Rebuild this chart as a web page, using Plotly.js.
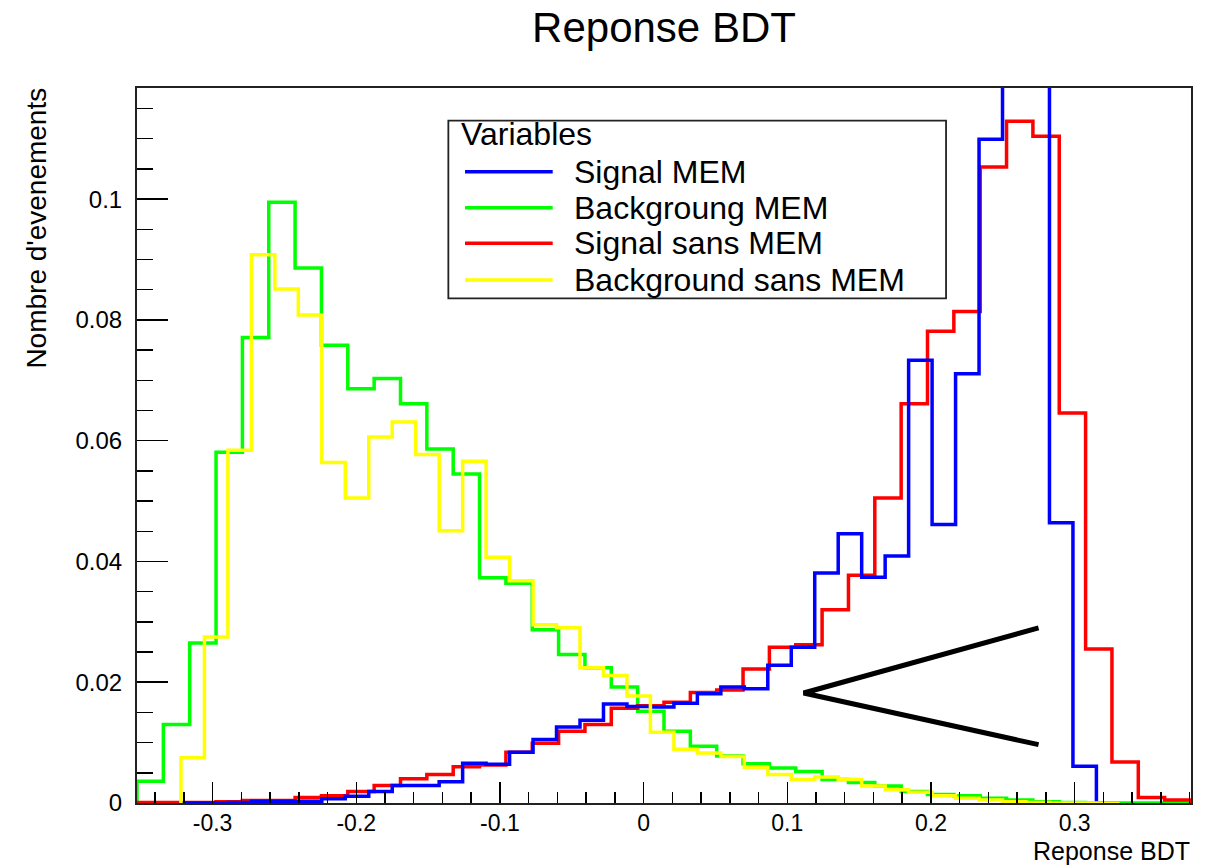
<!DOCTYPE html>
<html>
<head>
<meta charset="utf-8">
<script src="https://cdn.plot.ly/plotly-3.0.1.min.js"></script>
<style>
  html, body { margin: 0; padding: 0; background: #fff; }
  #chart { width: 1212px; height: 866px; }
</style>
</head>
<body>
<div id="chart"></div>
<script>
// BDT response distributions, normalised to unit area (40 bins each)
const seriesNames = ['Signal MEM', 'Backgroung MEM', 'Signal sans MEM', 'Background sans MEM'];
const seriesColors = ['#0000ff', '#00ff00', '#ff0000', '#ffff00'];

// histogram ranges (low edge, high edge)
const rangeSignalMEM = [-0.3220, 0.3315];
const rangeBackgroundMEM = [-0.3526, 0.3810];
const rangeSignalSansMEM = [-0.3526, 0.3810];
const rangeBackgroundSansMEM = [-0.3220, 0.3315];

const signalMEM = [
  0, 0, 0.0001, 0.0003, 0.0003, 0.0003, 0.0007, 0.0011, 0.0019, 0.0029,
  0.0029, 0.0035, 0.0066, 0.0064, 0.0084, 0.0105, 0.0126, 0.0137, 0.0164, 0.0160,
  0.0159, 0.0165, 0.0181, 0.0192, 0.0189, 0.0228, 0.0258, 0.0381, 0.0446, 0.0374,
  0.0409, 0.0733, 0.0461, 0.0711, 0.1099, 0.1230, 0.1210, 0.0464, 0.0061, 0
];
const backgroundMEM = [
  0.0036, 0.0130, 0.0265, 0.0581, 0.0771, 0.0995, 0.0886, 0.0758, 0.0686, 0.0703,
  0.0661, 0.0586, 0.0545, 0.0373, 0.0364, 0.0287, 0.0246, 0.0224, 0.0192, 0.0152,
  0.0119, 0.0094, 0.0078, 0.0065, 0.0058, 0.0052, 0.0039, 0.0034, 0.0028, 0.0019,
  0.0014, 0.0012, 0.0008, 0.0005, 0.0002, 0.0001, 0, 0, 0, 0
];
const signalSansMEM = [
  0.0001, 0.0001, 0.0001, 0.0002, 0.0004, 0.0004, 0.0009, 0.0012, 0.0019, 0.0029,
  0.0040, 0.0047, 0.0060, 0.0063, 0.0084, 0.0099, 0.0119, 0.0130, 0.0157, 0.0161,
  0.0167, 0.0183, 0.0187, 0.0222, 0.0258, 0.0262, 0.0320, 0.0377, 0.0505, 0.0661,
  0.0781, 0.0814, 0.1053, 0.1129, 0.1104, 0.0646, 0.0255, 0.0068, 0.0009, 0.0005
];
const backgroundSansMEM = [
  0.0075, 0.0275, 0.0584, 0.0908, 0.0851, 0.0808, 0.0564, 0.0505, 0.0606, 0.0631,
  0.0577, 0.0451, 0.0566, 0.0407, 0.0368, 0.0295, 0.0290, 0.0224, 0.0211, 0.0177,
  0.0117, 0.0089, 0.0083, 0.0077, 0.0059, 0.0047, 0.0039, 0.0043, 0.0039, 0.0028,
  0.0022, 0.0018, 0.0012, 0.0008, 0.0005, 0.0002, 0.0001, 0, 0, 0
];

const xTickVals = [-0.3, -0.2, -0.1, 0, 0.1, 0.2, 0.3];
const xTickLabels = ['-0.3', '-0.2', '-0.1', '0', '0.1', '0.2', '0.3'];
const yTickVals = [0, 0.02, 0.04, 0.06, 0.08, 0.1];
const yTickLabels = ['0', '0.02', '0.04', '0.06', '0.08', '0.1'];

const FONT = 'Liberation Sans, Arial, Helvetica, sans-serif';

// Outline of a fixed-width histogram, closed down to zero at both ends
function histOutline(values, range, color, name) {
  const w = (range[1] - range[0]) / values.length;
  const x = [range[0]];
  const y = [0];
  values.forEach((v, i) => { x.push(range[0] + i * w); y.push(v); });
  x.push(range[1]); y.push(0);
  return {
    type: 'scatter', mode: 'lines', name: name, x: x, y: y,
    line: { shape: 'hv', color: color, width: 3.5 },
    showlegend: false, hoverinfo: 'x+y+name'
  };
}

// drawing order: background MEM, signal sans MEM, signal MEM, background sans MEM
const traces = [
  histOutline(backgroundMEM, rangeBackgroundMEM, seriesColors[1], seriesNames[1]),
  histOutline(signalSansMEM, rangeSignalSansMEM, seriesColors[2], seriesNames[2]),
  histOutline(signalMEM, rangeSignalMEM, seriesColors[0], seriesNames[0]),
  histOutline(backgroundSansMEM, rangeBackgroundSansMEM, seriesColors[3], seriesNames[3])
];

// Boxed legend in the upper middle of the frame
const legendBox = { x0: 0.2954, x1: 0.7676, y0: 0.7059, y1: 0.9543 };
const legendRows = [0.8829, 0.8326, 0.7828, 0.7315];
const LEGEND_SIZE = 32;
const shapes = [
  { type: 'rect', xref: 'paper', yref: 'paper',
    x0: legendBox.x0, x1: legendBox.x1, y0: legendBox.y0, y1: legendBox.y1,
    line: { color: '#222', width: 1.8 }, fillcolor: '#fff', layer: 'above' }
];
const annotations = [
  { text: 'Variables', xref: 'paper', yref: 'paper', x: 0.3055, y: 0.9357,
    xanchor: 'left', yanchor: 'middle', showarrow: false,
    font: { family: FONT, size: LEGEND_SIZE, color: '#000' } }
];
seriesNames.forEach((n, i) => {
  shapes.push({ type: 'line', xref: 'paper', yref: 'paper',
    x0: 0.3112, x1: 0.3944, y0: legendRows[i], y1: legendRows[i],
    line: { color: seriesColors[i], width: 3.5 }, layer: 'above' });
  annotations.push({ text: n, xref: 'paper', yref: 'paper', x: 0.4125, y: legendRows[i],
    xanchor: 'left', yanchor: 'middle', showarrow: false,
    font: { family: FONT, size: LEGEND_SIZE, color: '#000' } });
});

// hand-drawn "<" marker next to the signal curves
shapes.push({ type: 'path', xref: 'x', yref: 'y',
  path: 'M 0.2749 0.0290 L 0.1114 0.01822 L 0.2749 0.00966',
  line: { color: '#000', width: 5 } });

// axis titles, ROOT style: x title flush right, y title flush top
annotations.push({ text: 'Reponse BDT', xref: 'paper', yref: 'paper', x: 1, y: -0.0678,
  xanchor: 'right', yanchor: 'middle', showarrow: false, borderpad: 0,
  font: { family: FONT, size: 25, color: '#000' } });
annotations.push({ text: "Nombre d'evenements", xref: 'paper', yref: 'paper', x: -0.0949, y: 1.004,
  xanchor: 'center', yanchor: 'top', textangle: -90, showarrow: false,
  font: { family: FONT, size: 28, color: '#000' } });

const axisCommon = {
  showgrid: false, zeroline: false, showline: true, mirror: true,
  linecolor: '#222', linewidth: 2, ticks: 'inside', tickcolor: '#000', tickwidth: 1.5,
  tickfont: { family: FONT, size: 24, color: '#000' }, tickmode: 'array'
};

const layout = {
  width: 1212, height: 866,
  margin: { l: 137, r: 21, t: 88, b: 63 },
  paper_bgcolor: '#fff', plot_bgcolor: '#fff',
  font: { family: FONT, color: '#000' },
  showlegend: false,
  title: { text: 'Reponse BDT', x: 0.5, xref: 'paper', xanchor: 'center',
           y: 0.9688, yref: 'container', yanchor: 'middle',
           font: { family: FONT, size: 42, color: '#000' } },
  xaxis: Object.assign({}, axisCommon, {
    range: rangeBackgroundMEM, tickvals: xTickVals, ticktext: xTickLabels,
    ticklen: 21, ticklabelstandoff: -2,
    tickfont: { family: FONT, size: 23, color: '#000' },
    minor: { tickmode: 'linear', tick0: 0, dtick: 0.02, ticks: 'inside', ticklen: 11,
             tickwidth: 1.5, tickcolor: '#000', showgrid: false }
  }),
  yaxis: Object.assign({}, axisCommon, {
    range: [0, 0.1184], tickvals: yTickVals, ticktext: yTickLabels,
    ticklen: 31, ticklabelstandoff: 8,
    minor: { tickmode: 'linear', tick0: 0, dtick: 0.005, ticks: 'inside', ticklen: 16,
             tickwidth: 1.5, tickcolor: '#000', showgrid: false }
  }),
  shapes: shapes,
  annotations: annotations
};

Plotly.newPlot('chart', traces, layout, { displayModeBar: false, staticPlot: true });
</script>
</body>
</html>
